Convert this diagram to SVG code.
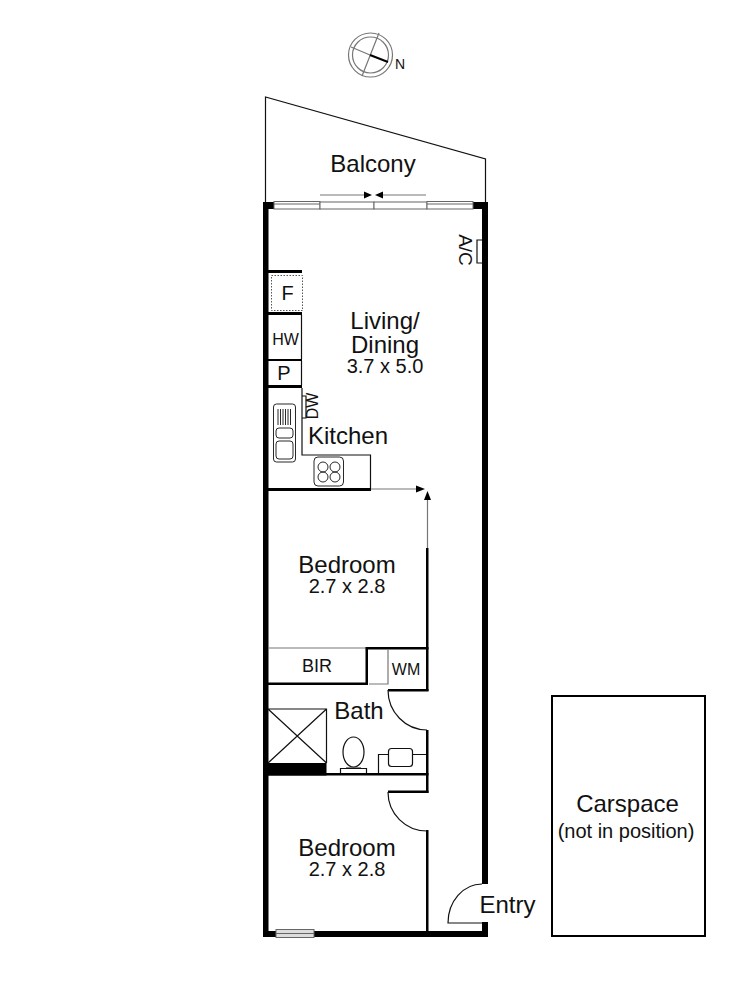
<svg xmlns="http://www.w3.org/2000/svg" width="750" height="1000" viewBox="0 0 750 1000">
<style>
text{font-family:"Liberation Sans",Arial,sans-serif;fill:#111;text-anchor:middle}
.t24{font-size:24px}.t20{font-size:20px}.t18{font-size:18px}.t15{font-size:16px}
.w{fill:#000;stroke:none}
.l{fill:none;stroke:#111;stroke-width:1.2}
.g{fill:none;stroke:#777;stroke-width:1.2}
.f{fill:#fff;stroke:#666;stroke-width:1}
</style>
<rect width="750" height="1000" fill="#fff"/>
<g id="compass" class="g">
<circle cx="370.500" cy="55" r="22"/><circle cx="370.500" cy="55" r="18"/>
<path d="M379 33L362 76M351 47L370 55"/>
<path d="M370 55L388 62" style="stroke:#000;stroke-width:2"/>
</g>
<text id="compass-n" x="400" y="69" style="font-size:14px">N</text>
<g id="balcony">
<path class="l" d="M265.500 202V97L485.500 159V202"/>
<text class="t24" x="373" y="172">Balcony</text>
</g>
<g id="walls">
<rect class="w" x="263" y="202" width="5.500" height="735"/>
<rect class="w" x="263" y="202" width="11" height="7"/>
<rect class="w" x="473" y="202" width="15" height="7"/>
<rect class="w" x="482" y="202" width="6" height="682"/>
<rect class="w" x="263" y="931" width="225" height="6"/>
<rect class="w" x="482" y="922" width="6" height="15"/>
<rect class="w" x="268" y="270" width="34" height="3"/>
<rect class="w" x="268" y="312" width="34" height="3"/>
<rect class="w" x="268" y="359" width="34" height="2"/>
<rect class="w" x="268" y="385" width="34" height="3"/>
<rect class="w" x="268" y="488" width="103" height="3"/>
<rect class="w" x="426" y="548" width="2.500" height="143"/>
<rect class="w" x="365.500" y="647" width="63" height="2.500"/>
<rect class="w" x="365.500" y="647" width="2.500" height="38"/>
<rect class="w" x="268" y="682.500" width="100" height="2.500"/>
<rect class="w" x="388" y="689" width="40.500" height="2.500"/>
<rect class="w" x="426" y="730" width="2.500" height="63"/>
<rect class="w" x="268" y="773" width="160.500" height="2.500"/>
<rect class="w" x="388" y="790.500" width="40.500" height="2.500"/>
<rect class="w" x="426" y="830" width="2.500" height="101"/>
<rect class="w" x="268" y="763" width="58.500" height="12.500"/>
</g>
<g id="balcony-door">
<rect class="f" x="274" y="201.500" width="46" height="7.500"/>
<rect class="f" x="320" y="202" width="54" height="7"/>
<rect class="f" x="374" y="202" width="53" height="7"/>
<rect class="f" x="427" y="201.500" width="46" height="7.500"/>
<path class="f" d="M274 204H320M427 204H473"/>
<path class="g" d="M320 195H364M383 195H426"/>
<path d="M364 191.500L372 195L364 198.500Z M375 195L383 191.500V198.500Z" fill="#000"/>
</g>
<g id="ac">
<path class="l" d="M482 240H477V263H482"/>
<text transform="translate(459,250) rotate(90)" style="font-size:19px">A/C</text>
</g>
<g id="living"><text class="t24" x="385" y="329">Living/</text><text class="t24" x="385" y="353">Dining</text><text class="t20" x="385" y="373">3.7 x 5.0</text></g>
<g id="fridge"><rect x="271.500" y="275.500" width="31" height="35" fill="none" stroke="#555" stroke-dasharray="1.500 1.500"/><text class="t20" x="287.500" y="299.500">F</text></g>
<g id="hw"><path class="l" d="M301.500 315V359"/><text class="t15" x="285.500" y="344.500">HW</text></g>
<g id="p"><path class="l" d="M301.500 361V385"/><text class="t20" x="284" y="380">P</text></g>
<g id="dw"><path class="l" d="M302 396H306V418H302"/><text class="t15" transform="translate(318,406) rotate(-90)">DW</text></g>
<g id="kitchen">
<path class="l" d="M302 388V455H370.500V488"/>
<text class="t24" x="348" y="444">Kitchen</text>
<g id="sink" class="l" style="stroke-width:.9">
<rect x="273.500" y="404" width="22" height="58" rx="3"/>
<rect x="276" y="428" width="17" height="10" rx="3"/>
<rect x="276" y="441" width="17" height="18" rx="3"/>
<path d="M278 409V425M280.500 409V425M283 409V425M285.500 409V425M288 409V425M290.500 409V425"/>
</g>
<g id="hob" class="l" style="stroke-width:.9">
<rect x="314" y="457" width="29.500" height="29" rx="4"/>
<circle cx="323" cy="467" r="5"/><circle cx="335" cy="467" r="5"/><circle cx="323" cy="477" r="5"/><circle cx="335" cy="477" r="5"/>
</g>
</g>
<g id="bedroom-door">
<path class="g" d="M371 489H417M427.500 548V500"/>
<path d="M416 485.500L425 489L416 492.500Z M427.500 491L431 500H424Z" fill="#000"/>
</g>
<g id="bedroom1"><text class="t24" x="347" y="573">Bedroom</text><text class="t20" x="347" y="593">2.7 x 2.8</text></g>
<g id="bir"><path class="g" d="M268 648H366"/><text class="t18" x="317" y="672">BIR</text></g>
<g id="wm"><path class="g" d="M388 650V684H369"/><text class="t15" x="406" y="674.500">WM</text></g>
<g id="bath">
<text class="t24" x="359" y="719">Bath</text>
<path class="l" d="M388 690A39 40 0 0 0 427 730"/>
<path class="l" d="M268 709H326.500V763M268 709L326.500 763M326.500 709L268 763"/>
<g id="toilet" class="l"><ellipse cx="353.500" cy="752" rx="10.500" ry="15"/><path d="M346 768H361M340.500 773V768.500H366.500V773"/></g>
<g id="basin" class="l"><path d="M378.500 773V754.500H426"/><rect x="388.500" y="748.500" width="24" height="18" rx="3" fill="#fff"/></g>
</g>
<g id="bedroom2">
<path class="l" d="M388 792A39 39 0 0 0 427 831"/>
<text class="t24" x="347" y="856">Bedroom</text><text class="t20" x="347" y="876">2.7 x 2.8</text>
<rect x="276" y="929.500" width="38" height="8" fill="#ddd" stroke="#666"/>
<path d="M276 933.500H314" stroke="#666"/>
</g>
<g id="entry">
<path class="l" d="M482 884A34 39 0 0 0 448 923H482"/>
<text class="t24" x="507.500" y="913">Entry</text>
</g>
<g id="carspace">
<rect x="552" y="696" width="153" height="240" fill="none" stroke="#000" stroke-width="2"/>
<text class="t24" x="627.500" y="812">Carspace</text>
<text class="t20" x="626" y="838">(not in position)</text>
</g>
</svg>
